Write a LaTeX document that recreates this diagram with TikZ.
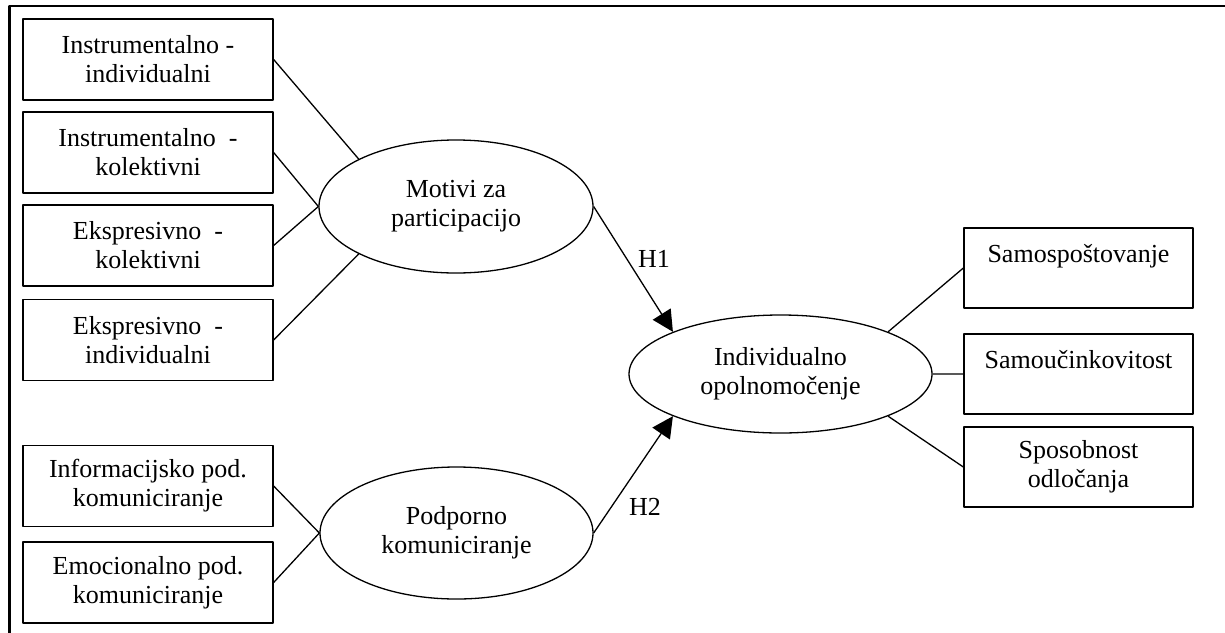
\documentclass[tikz,border=0pt]{standalone}
\usepackage{fontspec}
\setmainfont{Liberation Serif}
\usetikzlibrary{shapes.geometric,arrows.meta}
\begin{document}
\begin{tikzpicture}[x=0.5pt,y=-0.5pt,line join=round,line width=0.65pt,
	font=\fontsize{13pt}{14.5pt}\selectfont,
	levi/.style={draw,minimum width=125pt,minimum height=40.5pt,inner sep=0pt,align=center},
	desni/.style={draw,minimum width=114.5pt,minimum height=40pt,inner sep=0pt,align=center},
	elip/.style={draw,ellipse,inner sep=0pt,align=center},
	hipo/.style={-{Triangle[length=10.5pt,width=10.5pt]}}]
	\useasboundingbox (0,0) rectangle (1225,632);
	\pgfmathsetmacro{\lx}{148}
	\pgfmathsetmacro{\dx}{1078.5}
	% okvir
	\draw[line width=1.15pt] (9.5,640) -- (9.5,6) -- (1230,6);
	% levi kvadrati
	\node[levi] (ii) at (\lx,59.5) {Instrumentalno -\\individualni};
	\node[levi] (ik) at (\lx,152.5) {Instrumentalno~ -\\kolektivni};
	\node[levi] (ek) at (\lx,245.5) {Ekspresivno~ -\\kolektivni};
	\node[levi] (ei) at (\lx,340) {Ekspresivno~ -\\individualni};
	\node[levi] (ip) at (\lx,486) {Informacijsko pod.\\komuniciranje};
	\node[levi] (ep) at (\lx,582.5) {Emocionalno pod.\\komuniciranje};
	% elipse
	\node[elip,minimum width=137pt,minimum height=66.5pt] (mot) at (456,206.5) {Motivi za\\participacijo};
	\node[elip,minimum width=136.5pt,minimum height=66pt] (pod) at (456.5,533) {Podporno\\komuniciranje};
	\node[elip,minimum width=151.5pt,minimum height=59pt] (opo) at (780.5,374) {Individualno\\opolnomočenje};
	% desni kvadrati
	\node[desni] (sps) at (\dx,268) {Samospoštovanje\\ \mbox{}};
	\node[desni] (suk) at (\dx,374) {Samoučinkovitost\\ \mbox{}};
	\node[desni] (odl) at (\dx,467) {Sposobnost\\odločanja};
	% povezave
	\draw (ii.east) -- (mot.north west) (ik.east) -- (mot.west) (ek.east) -- (mot.west) (ei.east) -- (mot.south west);
	\draw (ip.east) -- (pod.west) (ep.east) -- (pod.west);
	\draw (opo.north east) -- (sps.west) (opo.east) -- (suk.west) (opo.south east) -- (odl.west);
	\draw[hipo] (mot.east) -- (opo.north west);
	\draw[hipo] (pod.east) -- (opo.south west);
	\node (h1) at (654,259) {H1};
	\node (h2) at (645,507) {H2};
\end{tikzpicture}
\end{document}
